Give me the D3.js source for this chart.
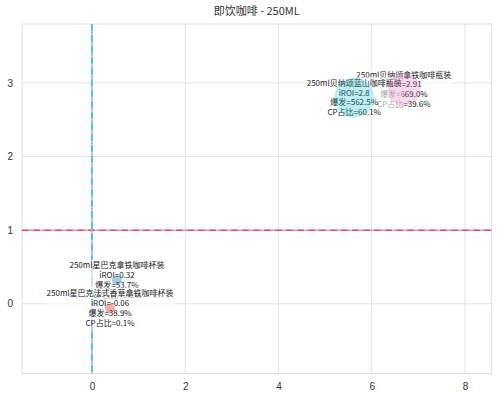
<!DOCTYPE html>
<html><head><meta charset="utf-8">
<script src="https://cdn.jsdelivr.net/npm/d3@7"></script>
<style>body{margin:0;background:#fff}</style>
</head><body>
<svg id="c" width="500" height="401"></svg>
<script>
const names = ["250ml贝纳颂拿铁咖啡瓶装","250ml贝纳颂蓝山咖啡瓶装","250ml星巴克拿铁咖啡杯装","250ml星巴克法式香草拿铁咖啡杯装"];
const burst = [669.0, 562.5, 53.7, 38.9];
const iroi = [2.91, 2.8, 0.32, -0.06];
const iroiText = ["2.91","2.8","0.32","-0.06"];
const cpShare = [39.6, 60.1, 0.2, 0.1];
const colors = ["#e377c2","#17becf","#1f77b4","#d62728"];
const xTicks = [0,2,4,6,8];
const yTicks = [0,1,2,3];
const title = "即饮咖啡 - 250ML";

const svg = d3.select("#c");
const L=22,R=491.5,T=24,B=373.7;
const x = d3.scaleLinear().domain([-1.5,8.57]).range([L,R]);
const y = d3.scaleLinear().domain([-0.95,3.80]).range([B,T]);
const area = d3.scaleLinear().domain([0,60.1]).range([75,1259]);
const rad = v => Math.sqrt(area(v)/Math.PI);

// grid
svg.append("g").selectAll("line").data(xTicks).join("line")
  .attr("x1",d=>x(d)).attr("x2",d=>x(d)).attr("y1",T).attr("y2",B)
  .attr("stroke","#dcdcdc").attr("stroke-width",0.8);
svg.append("g").selectAll("line").data(yTicks).join("line")
  .attr("y1",d=>y(d)).attr("y2",d=>y(d)).attr("x1",L).attr("x2",R)
  .attr("stroke","#dcdcdc").attr("stroke-width",0.8);
svg.append("rect").attr("x",L).attr("y",T).attr("width",R-L).attr("height",B-T)
  .attr("fill","none").attr("stroke","#d6d6d6").attr("stroke-width",0.8);

// axes tick labels
const xa = svg.append("g").attr("transform",`translate(0,${B})`)
  .call(d3.axisBottom(x).tickValues(xTicks).tickFormat(d3.format("d")).tickSize(0).tickPadding(9));
const ya = svg.append("g").attr("transform",`translate(${L},0)`)
  .call(d3.axisLeft(y).tickValues(yTicks).tickFormat(d3.format("d")).tickSize(0).tickPadding(9));
[xa,ya].forEach(a=>{a.select(".domain").remove();
  a.selectAll("text").attr("font-family","Liberation Sans, Arial, sans-serif").attr("font-size",10).attr("fill","#333");});

// reference lines
svg.append("line").attr("x1",L).attr("x2",R).attr("y1",y(1)).attr("y2",y(1))
  .attr("stroke","#aaa").attr("stroke-width",1.5).attr("stroke-dasharray","3,8").attr("stroke-dashoffset",-7.5);
svg.append("line").attr("x1",L).attr("x2",R).attr("y1",y(1)).attr("y2",y(1))
  .attr("stroke","#ee3d7c").attr("stroke-width",1.5).attr("stroke-dasharray","7,4");
svg.append("line").attr("x1",x(0)).attr("x2",x(0)).attr("y1",T).attr("y2",B)
  .attr("stroke","#aaa").attr("stroke-width",1.5).attr("stroke-dasharray","3,8").attr("stroke-dashoffset",-7.5);
svg.append("line").attr("x1",x(0)).attr("x2",x(0)).attr("y1",T).attr("y2",B)
  .attr("stroke","#2ab4e2").attr("stroke-width",1.5).attr("stroke-dasharray","7,4");

const idx = d3.range(names.length);
const fs=8, lh=9.7;

// labels (box + text drawn in order, each above the previous)
idx.forEach(i=>{
  const cx=x(burst[i]/100), cy=y(iroi[i]);
  const lines=[names[i],"iROI="+iroiText[i],"爆发="+burst[i].toFixed(1)+"%","CP占比="+cpShare[i].toFixed(1)+"%"];
  const g=svg.append("g");
  const rect=g.append("rect").attr("fill","#fff").attr("fill-opacity",0.6);
  const t=g.append("text").attr("font-family","Noto Sans CJK SC, sans-serif").attr("font-size",fs)
    .attr("fill","#222").attr("text-anchor","middle");
  lines.forEach((s,k)=>{
    t.append("tspan").attr("x",cx).attr("y",cy+(k-1.5)*lh+fs*0.35).text(s);
  });
  const bb=t.node().getBBox();
  rect.attr("x",bb.x-1).attr("y",bb.y).attr("width",bb.width+2).attr("height",bb.height);
});

// bubbles on top, translucent
svg.append("g").selectAll("circle").data(idx).join("circle")
  .attr("cx",i=>x(burst[i]/100)).attr("cy",i=>y(iroi[i])).attr("r",i=>rad(cpShare[i]))
  .attr("fill",i=>colors[i]).attr("fill-opacity",i=>cpShare[i]<1?0.38:0.28);

// title
svg.append("text").attr("x",(L+R)/2).attr("y",15).attr("text-anchor","middle")
  .attr("font-family","Noto Sans CJK SC, sans-serif").attr("font-size",11).attr("fill","#333").text(title);
</script>
</body></html>
